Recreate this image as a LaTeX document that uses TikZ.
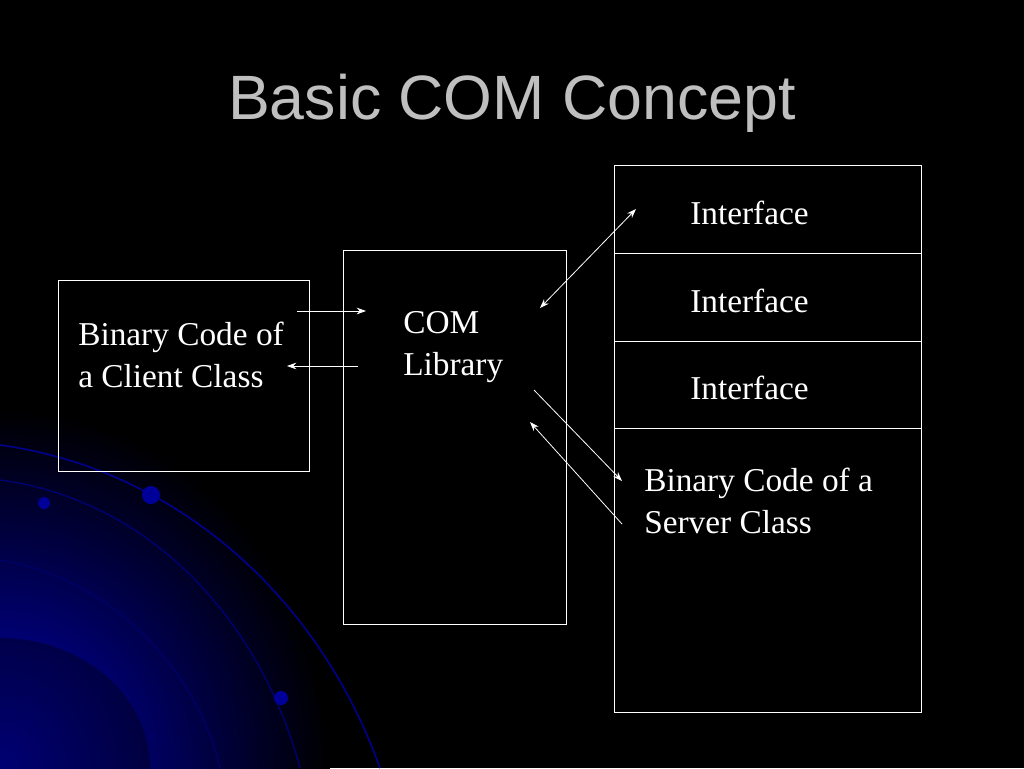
\documentclass[tikz,border=0pt]{standalone}
\usepackage{fontspec}
\setmainfont{Liberation Serif}
\newfontfamily\ttl{Liberation Sans}
\usetikzlibrary{arrows.meta}
\begin{document}
\begin{tikzpicture}[x=0.75pt,y=-0.75pt,
 box/.style={draw=white,line width=0.6pt},
 lbl/.style={text=white,font=\fontsize{25}{31.5}\selectfont,anchor=west,align=left,inner sep=0},
 arr/.style={draw=white,line width=0.6pt,-{Stealth[length=7pt,width=5pt]}}]
\useasboundingbox (0,0) rectangle (1024,768);
\fill[black] (0,0) rectangle (1024,768);
\begin{scope}
\clip (0,0) rectangle (1024,768);
\shade[inner color=blue!70!black, outer color=black] (0,768) ellipse (330 and 360);
\fill[black, opacity=0.35] (0,768) ellipse (150 and 130);
\draw[blue!55!black,line width=1.2pt] (0,445) .. controls (180,470) and (320,600) .. (380,768);
\draw[blue!45!black,line width=1pt] (0,480) .. controls (150,500) and (260,620) .. (300,768);
\draw[blue!40!black,line width=1pt] (0,560) .. controls (120,580) and (200,680) .. (220,768);
\fill[blue!60!black] (44,503) circle (6);
\fill[blue!60!black] (151,495) circle (9);
\fill[blue!60!black] (281,698) circle (7);
\end{scope}
\node[text=black!25,font=\ttl\fontsize{47}{56}\selectfont] (t) at (512,103) {Basic COM Concept};
\node[box,minimum width=188.25pt,minimum height=143.25pt,anchor=north west] (cl) at (58,280) {};
\node[box,minimum width=167.25pt,minimum height=280.5pt,anchor=north west] (lib) at (343,250) {};
\node[box,minimum width=230.25pt,minimum height=410.25pt,anchor=north west] (sv) at (614,165) {};
\draw[white,line width=0.6pt] (614,253) -- (921,253) (614,341) -- (921,341) (614,428) -- (921,428);
\node[lbl] (ct) at (78,355) {Binary Code of\\a Client Class};
\node[lbl] (lt) at (403,347) {COM\\Library};
\node[lbl] (i1) at (690,213) {Interface};
\node[lbl] (i2) at (690,301) {Interface};
\node[lbl] (i3) at (690,388) {Interface};
\node[lbl] (st) at (644,501) {Binary Code of a\\Server Class};
\coordinate (a1) at (297,311); \coordinate (a2) at (366,311);
\coordinate (b1) at (358,366); \coordinate (b2) at (287,366);
\coordinate (c1) at (540,308); \coordinate (c2) at (636,209);
\coordinate (d1) at (534,390); \coordinate (d2) at (622,481);
\coordinate (e1) at (622,524); \coordinate (e2) at (530,422);
\draw[arr] (a1) -- (a2);
\draw[arr] (b1) -- (b2);
\draw[arr,{Stealth[length=7pt,width=5pt]}-{Stealth[length=7pt,width=5pt]}] (c1) -- (c2);
\draw[arr] (d1) -- (d2);
\draw[arr] (e1) -- (e2);
\end{tikzpicture}
\end{document}
